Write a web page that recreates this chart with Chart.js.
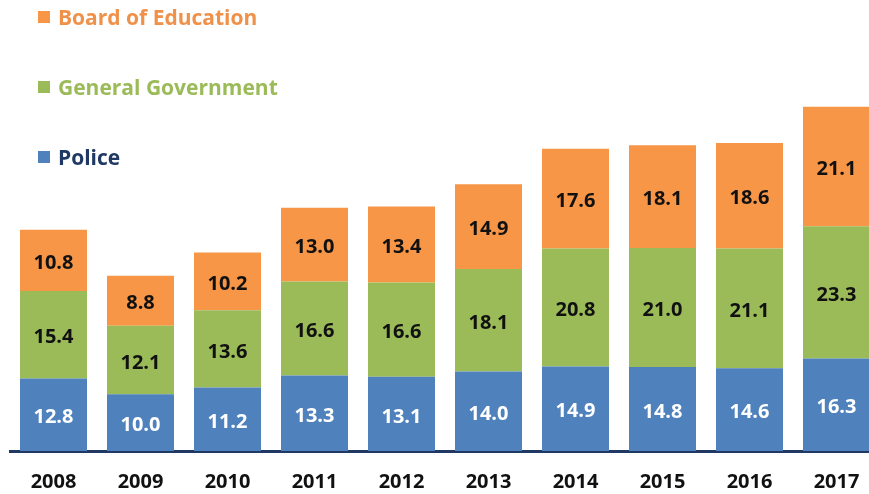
<!DOCTYPE html>
<html>
<head>
<meta charset="utf-8">
<script src="https://cdn.jsdelivr.net/npm/chart.js@4/dist/chart.umd.min.js"></script>
<style>
  body { margin: 0; background: #fff; overflow: hidden; }
  #wrap { position: relative; width: 880px; height: 494px; }
  #legend { position: absolute; left: 38px; top: 0; font-family: "Open Sans", sans-serif; font-weight: bold; font-size: 21px; }
  .item { position: absolute; left: 0; white-space: nowrap; display: flex; align-items: center; }
  .box { width: 12px; height: 12px; margin-right: 8px; }
</style>
</head>
<body>
<div id="wrap">
  <canvas id="spending" width="880" height="494"></canvas>
  <div id="legend"></div>
</div>
<script>
const years = ["2008", "2009", "2010", "2011", "2012", "2013", "2014", "2015", "2016", "2017"];
const police = [12.8, 10.0, 11.2, 13.3, 13.1, 14.0, 14.9, 14.8, 14.6, 16.3];
const generalGov = [15.4, 12.1, 13.6, 16.6, 16.6, 18.1, 20.8, 21.0, 21.1, 23.3];
const boardEd = [10.8, 8.8, 10.2, 13.0, 13.4, 14.9, 17.6, 18.1, 18.6, 21.1];

const colors = { police: "#4f81bd", general: "#9bbb59", board: "#f79646" };

// value labels in the middle of each segment
const segmentLabels = {
  id: "segmentLabels",
  afterDatasetsDraw(chart) {
    const ctx = chart.ctx;
    ctx.save();
    ctx.font = "bold 20px 'Open Sans', sans-serif";
    ctx.textAlign = "center";
    ctx.textBaseline = "middle";
    chart.data.datasets.forEach((ds, i) => {
      const meta = chart.getDatasetMeta(i);
      ctx.fillStyle = i === 0 ? "#ffffff" : "#111111";
      meta.data.forEach((bar, j) => {
        const y = (bar.y + bar.base) / 2 + 3;
        ctx.fillText(ds.data[j].toFixed(1), bar.x, y);
      });
    });
    ctx.restore();
  }
};

const chart = new Chart(document.getElementById("spending"), {
  type: "bar",
  data: {
    labels: years,
    datasets: [
      { label: "Police", data: police, backgroundColor: colors.police },
      { label: "General Government", data: generalGov, backgroundColor: colors.general },
      { label: "Board of Education", data: boardEd, backgroundColor: colors.board }
    ]
  },
  options: {
    responsive: false,
    animation: false,
    layout: { padding: { left: 10, right: 0, top: 0, bottom: 0 } },
    datasets: { bar: { barPercentage: 0.77, categoryPercentage: 1 } },
    plugins: { legend: { display: false }, tooltip: { enabled: false } },
    scales: {
      x: {
        stacked: true,
        grid: { display: false, drawTicks: false },
        border: { display: true, color: "#1f3864", width: 3 },
        ticks: { color: "#111", padding: 19, font: { family: "'Open Sans', sans-serif", size: 20, weight: "bold" } },
        afterFit(scale) { scale.height = 43; }
      },
      y: { stacked: true, display: false, min: 0, max: 79.5 }
    }
  },
  plugins: [segmentLabels]
});

// legend, top item first
const legendItems = [
  { label: "Board of Education", box: colors.board, text: "#f0914a", top: 3 },
  { label: "General Government", box: colors.general, text: "#9bbb59", top: 73 },
  { label: "Police", box: colors.police, text: "#1f3864", top: 143 }
];
const legend = document.getElementById("legend");
legendItems.forEach(it => {
  const d = document.createElement("div");
  d.className = "item";
  d.style.top = it.top + "px";
  d.style.color = it.text;
  d.innerHTML = '<span class="box" style="background:' + it.box + '"></span>' + it.label;
  legend.appendChild(d);
});
</script>
</body>
</html>
